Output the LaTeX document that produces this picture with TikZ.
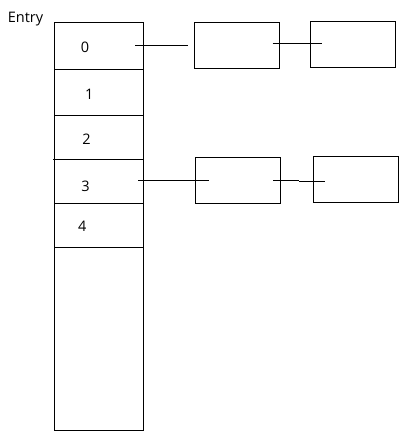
\documentclass[tikz,border=0pt]{standalone}
\usepackage{fontspec}
\setmainfont{Open Sans}
\usepackage{tikz}

\begin{document}
\begin{tikzpicture}[x=1pt,y=-1pt]
\tikzstyle{every node}+=[inner sep=0pt,font=\fontsize{14.5}{17}\selectfont]
\tikzstyle{bucket}=[draw,line width=1pt,minimum width=85pt,minimum height=46pt]
\useasboundingbox (0,0) rectangle (412,434);
\node [anchor=base west] (entry) at (7.7,22.3) {Entry};
\draw [black,line width=1pt] (54.3,22.3) rectangle (143.3,430.3);
\draw [black,line width=1pt] (54.3,69.3) -- (143.3,69.3);
\draw [black,line width=1pt] (54.3,115) -- (143.3,115);
\draw [black,line width=1pt] (53.3,159.3) -- (143.3,159.3);
\draw [black,line width=1pt] (54.3,203.3) -- (143.3,203.3);
\draw [black,line width=1pt] (54.3,247.5) -- (143.3,247.5);
\node [anchor=base] (k0) at (85,52.3) {0};
\node [anchor=base] (k1) at (89.3,99.3) {1};
\node [anchor=base] (k2) at (86.5,144.7) {2};
\node [anchor=base] (k3) at (85.5,191) {3};
\node [anchor=base] (k4) at (82.2,231.7) {4};
\node [bucket] (a1) at (236.7,45.3) {};
\node [bucket] (a2) at (353,44.2) {};
\node [bucket] (c1) at (238,180.2) {};
\node [bucket] (c2) at (356,179.2) {};
\coordinate (p0) at (135,45);
\coordinate (q0) at (187.7,45);
\coordinate (p1) at (272.7,43.3);
\coordinate (q1) at (322,43.3);
\coordinate (p3) at (138,180.3);
\coordinate (q3) at (208.7,180.3);
\coordinate (p4) at (273,180.3);
\coordinate (m4) at (299,180.3);
\coordinate (r4) at (299,181.3);
\coordinate (q4) at (325,181.3);
\draw [black,line width=1pt] (p0) -- (q0);
\draw [black,line width=1pt] (p1) -- (q1);
\draw [black,line width=1pt] (p3) -- (q3);
\draw [black,line width=1pt] (p4) -- (m4);
\draw [black,line width=1pt] (r4) -- (q4);
\end{tikzpicture}
\end{document}
